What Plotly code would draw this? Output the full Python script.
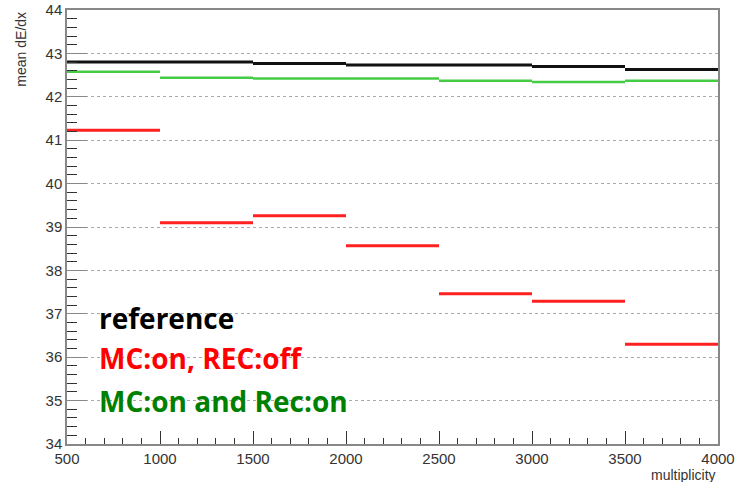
import plotly.graph_objects as go

bin_edges = [500, 1000, 1500, 2000, 2500, 3000, 3500, 4000]
reference = [42.80, 42.80, 42.77, 42.73, 42.73, 42.70, 42.63]
mc_on_rec_off = [41.23, 39.10, 39.26, 38.57, 37.46, 37.29, 36.30]
mc_on_rec_on = [42.58, 42.44, 42.42, 42.42, 42.37, 42.34, 42.37]

series = [
    ("reference", reference, "#111111", 3),
    ("MC:on, REC:off", mc_on_rec_off, "#ff2020", 3),
    ("MC:on and Rec:on", mc_on_rec_on, "#44cc44", 2.5),
]

def steps(vals):
    xs, ys = [], []
    for i, v in enumerate(vals):
        xs += [bin_edges[i], bin_edges[i + 1], None]
        ys += [v, v, None]
    return xs, ys

fig = go.Figure()
for name, vals, color, w in series:
    xs, ys = steps(vals)
    fig.add_trace(go.Scatter(x=xs, y=ys, mode="lines", name=name,
                             line=dict(color=color, width=w), showlegend=False))

axis_font = dict(family="Liberation Sans, Arial", size=15, color="#333333")
fig.update_layout(
    width=739, height=482,
    margin=dict(l=67, r=21, t=10, b=38, autoexpand=False),
    plot_bgcolor="white", paper_bgcolor="white",
    xaxis=dict(range=[500, 4000], dtick=500, tick0=500, ticks="inside", ticklen=13,
               tickcolor="#333", showgrid=False, zeroline=False, automargin=False,
               showline=True, linecolor="#888", linewidth=1.5, mirror=True,
               tickfont=axis_font,
               minor=dict(dtick=100, ticks="inside", ticklen=6, tickcolor="#333")),
    yaxis=dict(range=[34, 44], dtick=1, ticks="inside", ticklen=20, automargin=False,
               tickcolor="#888", showgrid=True, gridcolor="#aaaaaa", griddash="dot",
               gridwidth=1, zeroline=False,
               showline=True, linecolor="#888", linewidth=1.5, mirror=True,
               tickfont=axis_font,
               minor=dict(dtick=0.2, ticks="inside", ticklen=10, tickcolor="#333")),
)

fig.add_annotation(text="mean dE/dx", xref="paper", yref="paper", x=-0.072, y=1.0,
                   xanchor="center", yanchor="top", textangle=-90, showarrow=False,
                   font=dict(family="Liberation Sans, Arial", size=14, color="#333"))
fig.add_annotation(text="multiplicity", xref="paper", yref="paper", x=1.0, y=-0.072,
                   xanchor="right", yanchor="middle", showarrow=False,
                   font=dict(family="Liberation Sans, Arial", size=14, color="#333"))

legend_items = [("reference", "#000000", 36.9),
                ("MC:on, REC:off", "#ff0000", 35.98),
                ("MC:on and Rec:on", "#008000", 35.0)]
for text, color, yv in legend_items:
    fig.add_annotation(text="<b>" + text + "</b>", xref="paper", yref="y", x=0.046, y=yv,
                       xanchor="left", yanchor="middle", showarrow=False,
                       font=dict(family="Open Sans", size=28, color=color))

fig.write_html("out.html", config={"displayModeBar": False},
               post_script="document.body.style.margin='0';document.body.style.padding='0';")
